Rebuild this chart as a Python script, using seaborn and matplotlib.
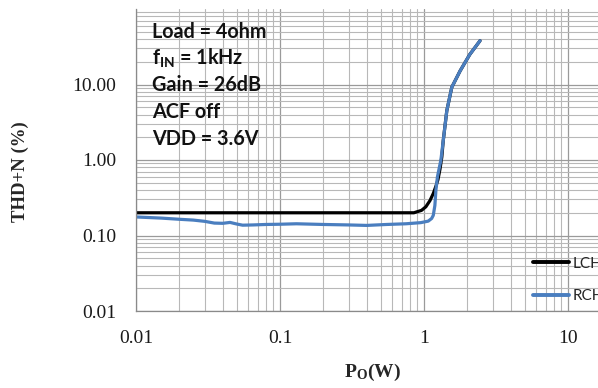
import matplotlib
matplotlib.use("Agg")
import matplotlib.pyplot as plt
import numpy as np
import pandas as pd
import seaborn as sns
from matplotlib.lines import Line2D

# Output power (W) and THD+N (%) for each channel
lch_po = [0.01, 0.05, 0.1, 0.3, 0.6, 0.85, 0.96, 1.03, 1.10, 1.16, 1.21, 1.25, 1.29, 1.33,
          1.36, 1.44, 1.56, 1.78, 2.08, 2.45]
lch_thd = [0.2, 0.2, 0.2, 0.2, 0.2, 0.2, 0.215, 0.24, 0.29, 0.36, 0.45, 0.55, 0.75, 1.1,
           1.8, 4.5, 9.2, 15.1, 25.0, 38.0]

rch_po = [0.010, 0.015, 0.020, 0.025, 0.030, 0.035, 0.040, 0.045, 0.050, 0.055, 0.065,
          0.08, 0.10, 0.13, 0.2, 0.3, 0.4, 0.55, 0.75, 0.95, 1.07, 1.13, 1.16, 1.19,
          1.21, 1.24, 1.31, 1.36, 1.44, 1.56, 1.78, 2.08, 2.45]
rch_thd = [0.176, 0.170, 0.164, 0.160, 0.154, 0.146, 0.145, 0.149, 0.142, 0.137, 0.138,
           0.140, 0.141, 0.143, 0.140, 0.138, 0.136, 0.140, 0.143, 0.148, 0.155, 0.168,
           0.185, 0.25, 0.40, 0.60, 1.0, 1.8, 4.5, 9.2, 15.1, 25.0, 38.0]

channels = ["LCH", "RCH"]
channel_colors = ["#000000", "#4a7ebf"]

x_ticks = [0.01, 0.1, 1, 10]
x_labels = ["0.01", "0.1", "1", "10"]
y_ticks = [0.01, 0.1, 1, 10]
y_labels = ["0.01", "0.10", "1.00", "10.00"]

conditions = ["Load = 4ohm", "f$_{IN}$ = 1kHz", "Gain = 26dB", "ACF off", "VDD = 3.6V"]

df = pd.concat([
    pd.DataFrame({"Po": lch_po, "THD": lch_thd, "ch": channels[0]}),
    pd.DataFrame({"Po": rch_po, "THD": rch_thd, "ch": channels[1]}),
], ignore_index=True)

sns.set_style("white")
plt.rcParams["mathtext.default"] = "regular"

W, H = 598, 388
fig = plt.figure(figsize=(W / 100, H / 100), dpi=100)
# plot area runs on past the right edge of the figure
ax = fig.add_axes([136 / W, 77 / H, 576 / W, 302 / H])

sns.lineplot(data=df, x="Po", y="THD", hue="ch", hue_order=channels,
             palette=channel_colors, estimator=None, sort=False,
             linewidth=2.3, ax=ax, legend=False)
for ln in ax.get_lines():
    ln.set_solid_capstyle("round")
    ln.set_solid_joinstyle("round")

ax.set_xscale("log")
ax.set_yscale("log")
ax.set_xlim(0.01, 100)
ax.set_ylim(0.01, 100)

ax.grid(which="major", color="#9a9a9a", linewidth=0.9)
ax.grid(which="minor", color="#b8b8b8", linewidth=0.8)
ax.set_axisbelow(True)

ax.set_xticks(x_ticks)
ax.set_xticklabels(x_labels)
ax.set_yticks(y_ticks)
ax.set_yticklabels(y_labels)
ax.tick_params(which="both", length=0)
ax.tick_params(axis="x", pad=14)
ax.tick_params(axis="y", pad=14)
for lab in ax.get_xticklabels() + ax.get_yticklabels():
    lab.set_fontfamily("Liberation Serif")
    lab.set_fontsize(14)
    lab.set_color("#1a1a1a")

for side in ["top", "right"]:
    ax.spines[side].set_visible(False)
for side in ["left", "bottom"]:
    ax.spines[side].set_color("#8a8a8a")
    ax.spines[side].set_linewidth(0.9)

ax.set_xlabel("")
ax.set_ylabel("")
fig.text(372 / W, 1 - 372 / H, "P$_{O}$(W)", ha="center", va="center",
         fontfamily="Liberation Serif", fontweight="bold", fontsize=14)
fig.text(20 / W, 1 - 172 / H, "THD+N (%)", ha="center", va="center", rotation=90,
         fontfamily="Liberation Serif", fontweight="bold", fontsize=13.5)

# Test conditions block
for i, line in enumerate(conditions):
    fig.text(152 / W, 1 - (32 + 26.7 * i) / H, line, ha="left", va="center",
             fontfamily="Lato", fontweight="bold", fontsize=14.2, color="#111111")

# Legend
handles = [Line2D([], [], color=c, linewidth=2.8) for c in channel_colors]
fig.legend(handles, channels, loc="upper left", bbox_to_anchor=(525 / W, 1 - 249 / H),
           frameon=False, prop={"family": "Lato", "size": 11},
           handlelength=2.4, handletextpad=0.2, labelspacing=1.2, borderpad=0)

fig.savefig("out.png", dpi=100)
